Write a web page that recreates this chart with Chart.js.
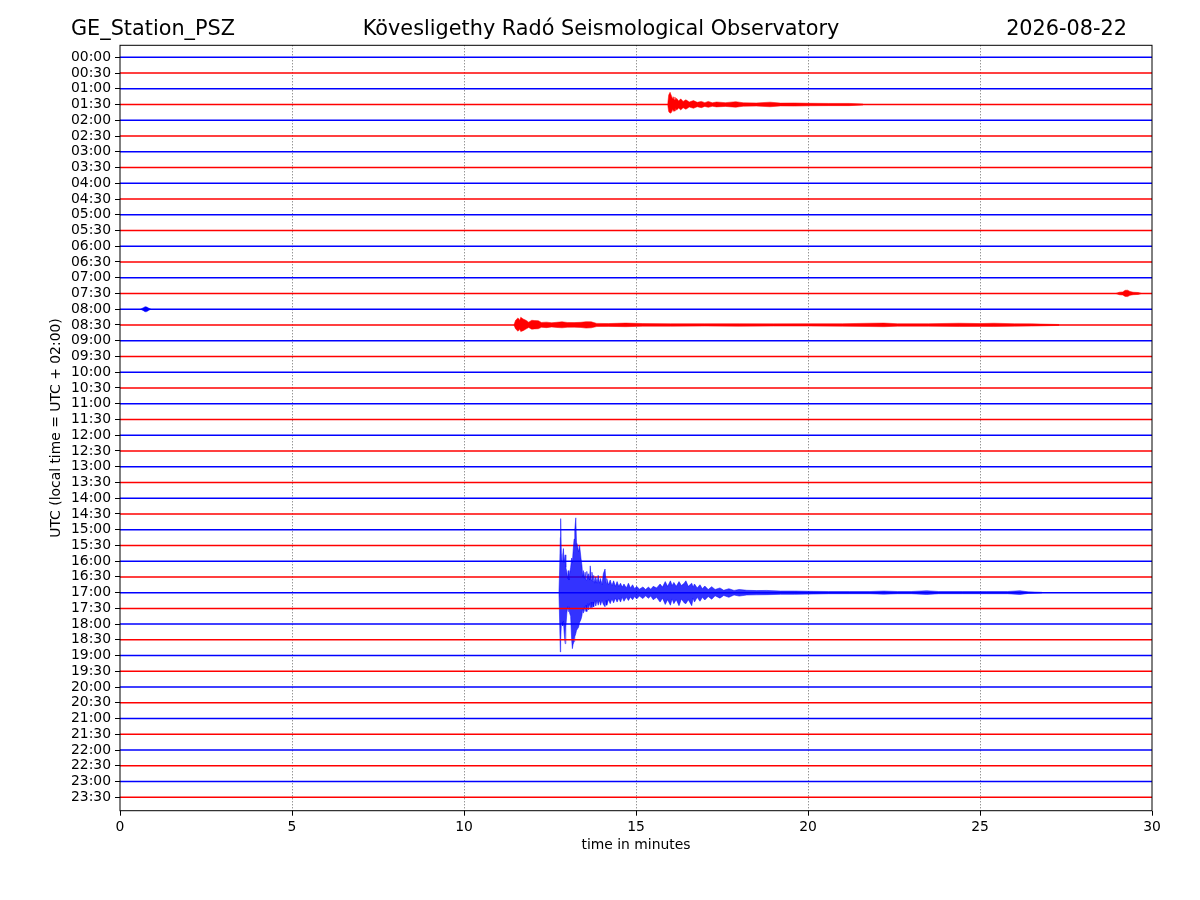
<!DOCTYPE html>
<html>
<head>
<meta charset="utf-8">
<title>GE_Station_PSZ helicorder</title>
<script src="https://cdn.jsdelivr.net/npm/chart.js@4"></script>
<style>
  html, body { margin: 0; padding: 0; background: #fff; }
  #wrap { position: relative; width: 1200px; height: 900px; }
  .ttl { position: absolute; top: 18.4px; font-family: 'DejaVu Sans', sans-serif; font-size: 20.8px; line-height: 20.8px; color: #000; white-space: nowrap; }
  #tl { left: 71px; }
  #tc { left: 1px; width: 1200px; text-align: center; }
  #tr { right: 73px; text-align: right; }
  canvas { position: absolute; left: 0; top: 0; }
</style>
</head>
<body>
<div id="wrap">
  <canvas id="c" width="1200" height="900"></canvas>
  <div class="ttl" id="tl">GE_Station_PSZ</div>
  <div class="ttl" id="tc">Kövesligethy Radó Seismological Observatory</div>
  <div class="ttl" id="tr">2026-08-22</div>
</div>
<script>
// ---- tick labels / categories ----
const timeLabels = ["00:00","00:30","01:00","01:30","02:00","02:30","03:00","03:30","04:00","04:30",
  "05:00","05:30","06:00","06:30","07:00","07:30","08:00","08:30","09:00","09:30",
  "10:00","10:30","11:00","11:30","12:00","12:30","13:00","13:30","14:00","14:30",
  "15:00","15:30","16:00","16:30","17:00","17:30","18:00","18:30","19:00","19:30",
  "20:00","20:30","21:00","21:30","22:00","22:30","23:00","23:30"];
const minuteTicks = [0, 5, 10, 15, 20, 25, 30];
const traceStart = 0;   // minutes
const traceEnd = 30;    // minutes
const traceColors = ["#0000ff", "#ff0000"];

// ---- seismic events: [minute, upper deflection, lower deflection] in trace units ----
const event0130 = [
  [15.92,0,0],[15.95,0.6,-0.45],[15.99,0.78,-0.55],[16.03,0.55,-0.5],[16.06,0.35,-0.3],
  [16.08,0.5,-0.44],[16.11,0.3,-0.3],[16.13,0.48,-0.42],[16.16,0.28,-0.25],[16.18,0.4,-0.36],
  [16.24,0.22,-0.22],[16.3,0.36,-0.34],[16.37,0.2,-0.2],[16.45,0.3,-0.3],[16.55,0.16,-0.16],
  [16.67,0.25,-0.24],[16.78,0.14,-0.14],[16.9,0.2,-0.2],[17.0,0.12,-0.12],[17.1,0.2,-0.18],
  [17.22,0.11,-0.11],[17.34,0.16,-0.15],[17.6,0.12,-0.12],[17.9,0.18,-0.17],[18.0,0.15,-0.14],
  [18.12,0.11,-0.11],[18.5,0.1,-0.1],[18.9,0.15,-0.14],[19.2,0.09,-0.09],[19.6,0.1,-0.1],
  [20.06,0.08,-0.08],[20.6,0.07,-0.07],[21.2,0.07,-0.07],[21.6,0.03,-0.03]
];
const event0730 = [
  [28.95,0,0],[29.05,0.08,-0.08],[29.15,0.1,-0.1],[29.22,0.2,-0.19],[29.29,0.21,-0.2],
  [29.36,0.13,-0.12],[29.45,0.08,-0.08],[29.6,0.06,-0.06],[29.7,0,0]
];
const event0800 = [
  [0.6,0,0],[0.68,0.1,-0.09],[0.73,0.16,-0.16],[0.78,0.14,-0.15],[0.84,0.06,-0.06],[0.9,0,0]
];
const event0830 = [
  [11.45,0,0],[11.5,0.3,-0.25],[11.57,0.45,-0.4],[11.62,0.3,-0.28],[11.65,0.49,-0.42],
  [11.72,0.38,-0.36],[11.8,0.3,-0.26],[11.88,0.18,-0.16],[11.97,0.3,-0.27],[12.05,0.28,-0.25],
  [12.16,0.27,-0.24],[12.25,0.16,-0.15],[12.4,0.18,-0.17],[12.55,0.14,-0.13],[12.7,0.17,-0.16],
  [12.85,0.2,-0.18],[13.0,0.16,-0.15],[13.2,0.15,-0.14],[13.4,0.17,-0.16],[13.55,0.21,-0.2],
  [13.7,0.2,-0.18],[13.86,0.1,-0.1],[14.2,0.09,-0.09],[14.7,0.12,-0.11],[15.2,0.09,-0.08],
  [16.0,0.08,-0.08],[17.0,0.08,-0.07],[18.0,0.08,-0.08],[19.0,0.07,-0.07],[20.0,0.08,-0.07],
  [21.0,0.08,-0.08],[21.8,0.11,-0.1],[22.2,0.12,-0.11],[22.6,0.08,-0.08],[23.5,0.08,-0.08],
  [24.4,0.11,-0.1],[25.0,0.09,-0.09],[25.4,0.11,-0.1],[26.0,0.08,-0.08],[26.5,0.07,-0.07],[27.3,0.03,-0.03]
];
const event1700 = [
  [12.76,0,0],[12.78,1.5,-1.8],[12.80,3.5,-3.77],[12.81,4.7,-3.0],[12.83,2.5,-2.0],
  [12.85,2.0,-1.9],[12.87,2.4,-2.1],[12.89,2.8,-1.8],[12.91,1.9,-2.5],[12.94,2.4,-3.24],
  [12.96,1.6,-2.2],[12.99,1.3,-1.3],[13.01,0.9,-0.9],[13.03,1.4,-1.2],[13.05,0.8,-0.9],
  [13.07,1.2,-1.3],[13.10,1.6,-1.5],[13.13,2.2,-3.0],[13.15,1.9,-3.56],[13.17,2.6,-3.3],
  [13.20,3.4,-3.1],[13.22,4.0,-2.8],[13.25,4.75,-2.6],[13.27,3.2,-2.4],[13.30,3.0,-2.3],
  [13.33,2.6,-2.2],[13.36,3.0,-1.9],[13.40,2.2,-1.7],[13.43,1.7,-1.45],[13.45,1.0,-1.0],
  [13.47,1.4,-1.3],[13.50,0.9,-0.9],[13.52,1.3,-1.2],[13.55,0.8,-0.8],[13.57,1.35,-1.2],
  [13.60,0.9,-0.7],[13.62,1.2,-1.1],[13.65,0.8,-0.7],[13.67,1.7,-1.0],[13.70,0.8,-0.6],
  [13.72,1.3,-0.95],[13.75,0.7,-0.6],[13.77,1.1,-0.9],[13.80,0.6,-0.5],[13.83,1.0,-0.85],
  [13.87,0.6,-0.5],[13.90,1.1,-0.8],[13.94,0.6,-0.5],[13.97,0.9,-0.8],[14.01,0.5,-0.5],
  [14.05,1.2,-0.75],[14.10,1.5,-0.9],[14.13,0.6,-0.5],[14.15,0.9,-0.8],[14.2,0.5,-0.45],
  [14.25,0.8,-0.7],[14.3,0.45,-0.4],[14.35,0.75,-0.65],[14.4,0.4,-0.35],[14.45,0.7,-0.6],
  [14.5,0.4,-0.35],[14.55,0.6,-0.6],[14.6,0.35,-0.3],[14.65,0.55,-0.55],[14.72,0.3,-0.3],
  [14.78,0.6,-0.5],[14.84,0.3,-0.28],[14.9,0.5,-0.45],[14.96,0.25,-0.25],[15.02,0.4,-0.4],
  [15.1,0.22,-0.22],[15.2,0.36,-0.38],[15.28,0.2,-0.2],[15.36,0.35,-0.36],[15.43,0.22,-0.22],
  [15.5,0.4,-0.45],[15.6,0.3,-0.3],[15.7,0.55,-0.6],[15.77,0.35,-0.35],[15.85,0.7,-0.75],
  [15.92,0.4,-0.45],[16.0,0.75,-0.8],[16.05,0.45,-0.4],[16.1,0.65,-0.7],[16.17,0.4,-0.45],
  [16.25,0.7,-0.83],[16.32,0.45,-0.4],[16.4,0.6,-0.65],[16.45,0.75,-0.7],[16.52,0.4,-0.45],
  [16.62,0.6,-0.83],[16.66,0.35,-0.35],[16.7,0.55,-0.6],[16.78,0.3,-0.3],[16.86,0.5,-0.55],
  [16.93,0.25,-0.3],[17.0,0.42,-0.47],[17.1,0.2,-0.25],[17.2,0.38,-0.42],[17.3,0.2,-0.2],
  [17.44,0.3,-0.35],[17.55,0.15,-0.18],[17.7,0.25,-0.3],[17.85,0.14,-0.15],[18.0,0.2,-0.22],
  [18.22,0.15,-0.15],[18.5,0.13,-0.14],[18.8,0.14,-0.13],[19.2,0.1,-0.11],[19.6,0.1,-0.11],
  [20.15,0.08,-0.09],[20.6,0.07,-0.07],[21.2,0.07,-0.07],[21.8,0.07,-0.07],[22.2,0.1,-0.1],
  [22.6,0.07,-0.07],[23.0,0.07,-0.07],[23.45,0.12,-0.12],[23.8,0.07,-0.07],[24.5,0.07,-0.07],
  [25.2,0.07,-0.07],[25.8,0.07,-0.07],[26.16,0.12,-0.12],[26.4,0.05,-0.05],[26.8,0.02,-0.02]
];
const eventList = [
  { trace: "01:30", rows: event0130, alpha: 1.0 },
  { trace: "07:30", rows: event0730, alpha: 1.0 },
  { trace: "08:00", rows: event0800, alpha: 1.0 },
  { trace: "08:30", rows: event0830, alpha: 1.0 },
  { trace: "17:00", rows: event1700, alpha: 0.8 }
];

// ---- build datasets for Chart.js ----
function rgba(hex, a) {
  const r = parseInt(hex.slice(1,3),16), g = parseInt(hex.slice(3,5),16), b = parseInt(hex.slice(5,7),16);
  return `rgba(${r},${g},${b},${a})`;
}
const datasets = [];
timeLabels.forEach((lab, i) => {
  const col = traceColors[i % 2];
  datasets.push({
    label: lab,
    data: [{x: traceStart, y: i}, {x: traceEnd, y: i}],
    borderColor: col,
    borderWidth: 1.5,
    fill: false,
    pointRadius: 0,
    order: 200 - i
  });
});
eventList.forEach(ev => {
  const i = timeLabels.indexOf(ev.trace);
  const col = traceColors[i % 2];
  datasets.push({
    label: ev.trace + " lower",
    data: ev.rows.map(r => ({x: r[0], y: i - r[2]})),
    borderColor: col,
    borderWidth: 0.5,
    fill: false,
    pointRadius: 0,
    order: 200 - i - 0.5
  });
  datasets.push({
    label: ev.trace + " upper",
    data: ev.rows.map(r => ({x: r[0], y: i - r[1]})),
    borderColor: col,
    borderWidth: 0.5,
    backgroundColor: rgba(col, ev.alpha),
    fill: '-1',
    pointRadius: 0,
    order: 200 - i - 0.5
  });
});

const framePlugin = {
  id: 'frame',
  afterDatasetsDraw(chart) {
    const {ctx, chartArea: a} = chart;
    ctx.save();
    ctx.strokeStyle = '#000';
    ctx.lineWidth = 1;
    ctx.strokeRect(a.left, a.top, a.right - a.left, a.bottom - a.top);
    ctx.restore();
  }
};

Chart.defaults.font.family = "'DejaVu Sans', sans-serif";
Chart.defaults.font.size = 13.9;
Chart.defaults.color = '#000';

new Chart(document.getElementById('c'), {
  type: 'line',
  data: { datasets },
  options: {
    responsive: false,
    animation: false,
    devicePixelRatio: 1,
    layout: { padding: { top: 45.3, left: 48.4, right: 48, bottom: 46.7 } },
    plugins: { legend: { display: false }, tooltip: { enabled: false }, title: { display: false } },
    elements: { point: { radius: 0 }, line: { tension: 0 } },
    scales: {
      x: {
        type: 'linear', min: traceStart, max: traceEnd,
        afterBuildTicks: s => { s.ticks = minuteTicks.map(v => ({ value: v })); },
        afterFit: s => { s.height = 42.6; },
        ticks: { color: '#000', padding: 3, maxRotation: 0, autoSkip: false },
        grid: {
          color: c => (c.tick && (c.tick.value === traceStart || c.tick.value === traceEnd)) ? 'rgba(0,0,0,0)' : '#444',
          lineWidth: 0.8, tickBorderDash: [], tickColor: '#000', tickLength: 5, tickWidth: 1
        },
        border: { display: false, dash: [1, 2] },
        title: { display: true, text: 'time in minutes', color: '#000', padding: 0 }
      },
      y: {
        type: 'linear', reverse: true, min: -0.762, max: 47.85,
        afterBuildTicks: s => { s.ticks = timeLabels.map((_, i) => ({ value: i })); },
        afterFit: s => { s.width = 71.6; },
        ticks: { color: '#000', padding: 4, autoSkip: false, callback: v => timeLabels[v] },
        grid: { drawOnChartArea: false, tickLength: 5, tickColor: '#000', tickWidth: 1 },
        border: { display: false },
        title: { display: true, text: 'UTC (local time = UTC + 02:00)', color: '#000', padding: 0 }
      }
    }
  },
  plugins: [framePlugin]
});
</script>
</body>
</html>
